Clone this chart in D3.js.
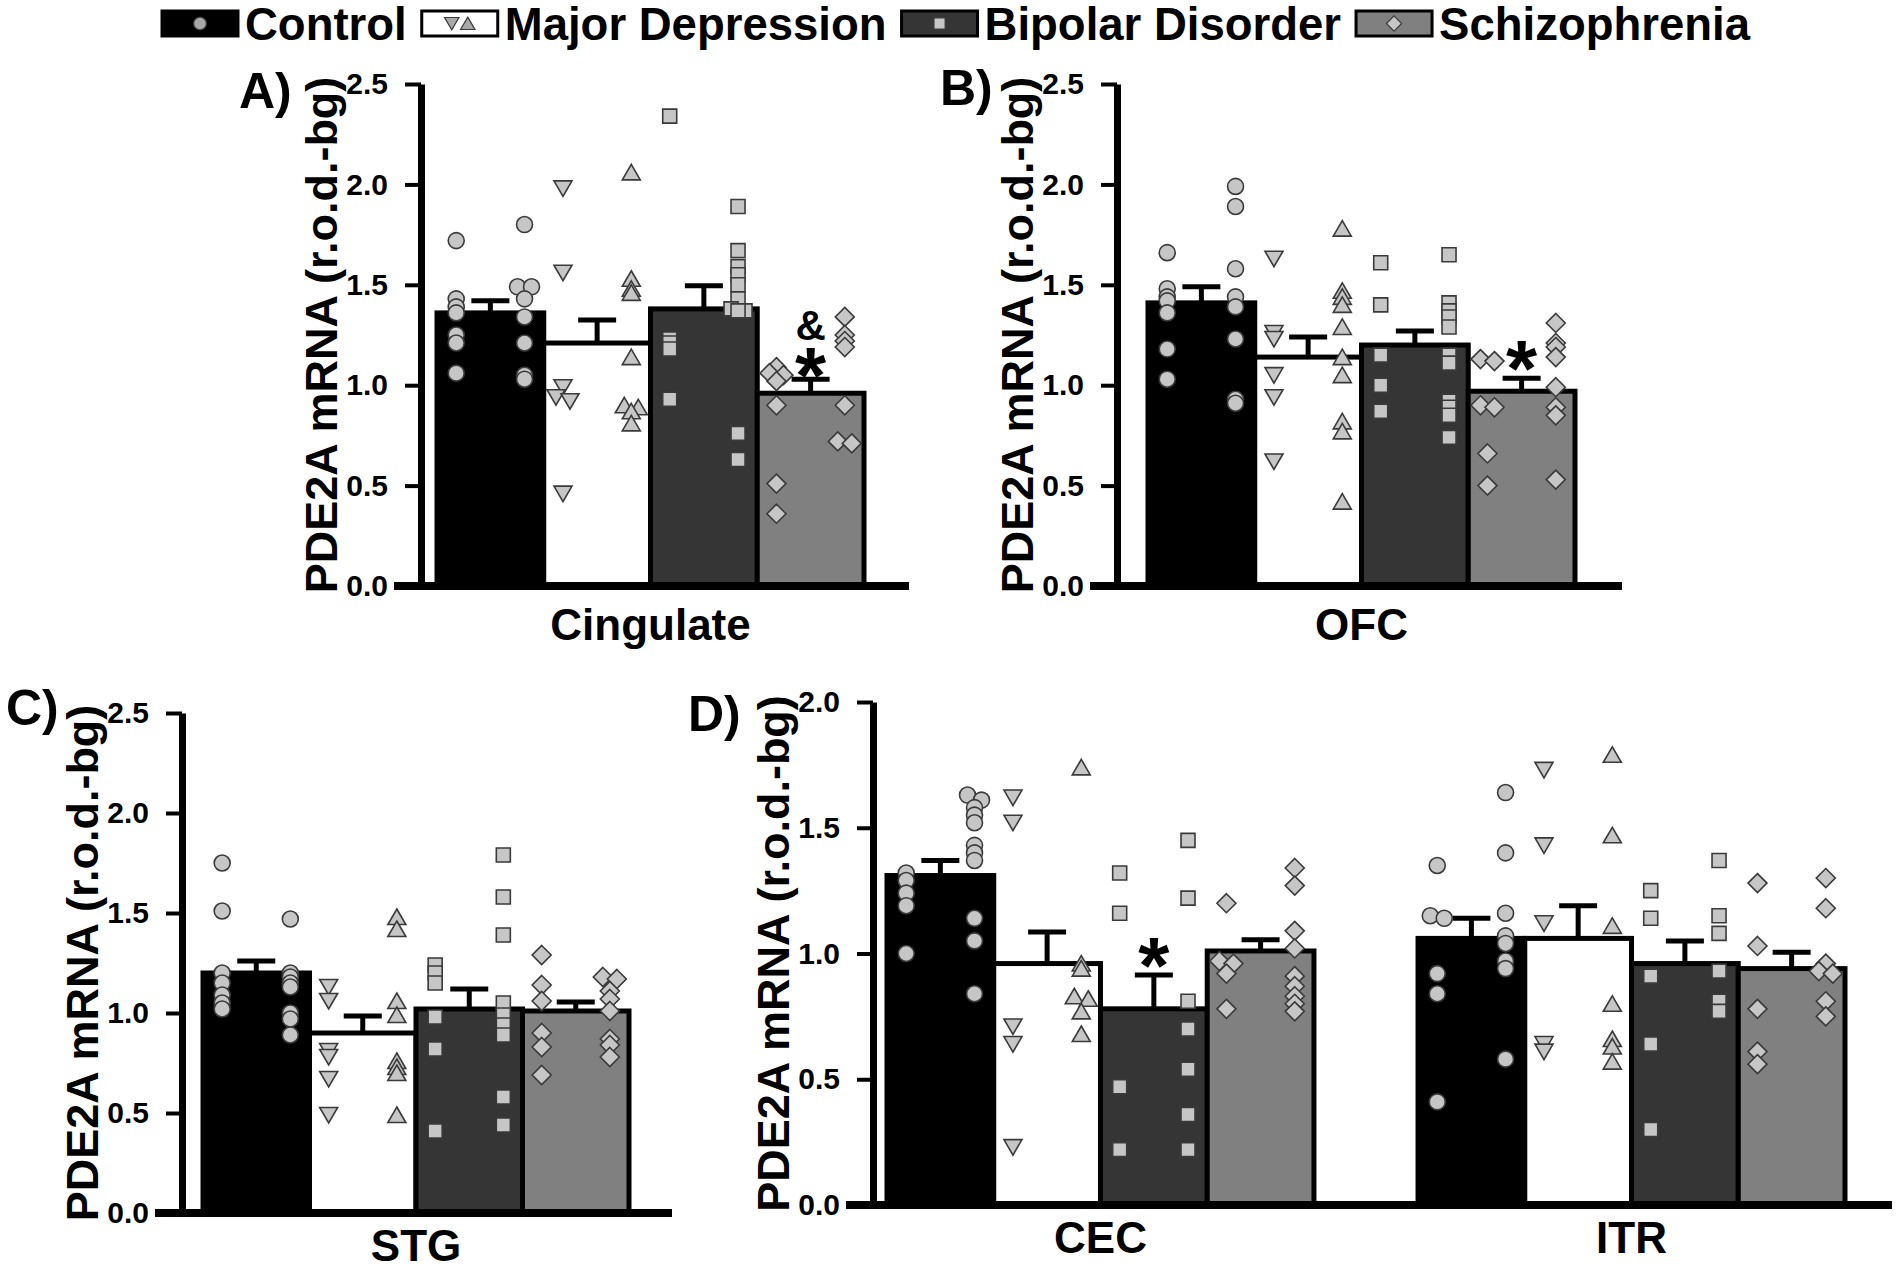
<!DOCTYPE html>
<html><head><meta charset="utf-8">
<script src="https://cdn.jsdelivr.net/npm/d3@7"></script>
<style>
body{margin:0;background:#fff;}
svg{display:block;}
text{font-family:"Liberation Sans", Arial, sans-serif; font-weight:bold; fill:#000;}
</style></head><body>
<svg id="chart" width="1896" height="1269"></svg>
<script>
// ---------- DATA ----------
const groups = ["Control", "Major Depression", "Bipolar Disorder", "Schizophrenia"];
const regions = ["Cingulate", "OFC", "STG", "CEC", "ITR"];
const yTicks25 = [0, 0.5, 1.0, 1.5, 2.0, 2.5];
const yTicks20 = [0, 0.5, 1.0, 1.5, 2.0];
const yLabel = "PDE2A mRNA (r.o.d.-bg)";

const meanCingulate = [1.36, 1.21, 1.38, 0.96];
const semCingulate  = [0.06, 0.115, 0.115, 0.07];
const leftCingulate = [
  [1.72, 1.43, 1.39, 1.36, 1.25, 1.21, 1.06],
  [1.98, 1.56, 0.99, 0.94, 0.92, 0.46],
  [2.34, 1.23, 1.21, 1.18, 0.93],
  [1.09, 1.06, 1.05, 1.02, 0.90, 0.51, 0.36]];
const rightCingulate = [
  [1.80, 1.49, 1.49, 1.43, 1.34, 1.21, 1.05, 1.03],
  [2.06, 1.53, 1.48, 1.46, 1.14, 0.90, 0.89, 0.87, 0.81],
  [1.89, 1.67, 1.59, 1.55, 1.50, 1.43, 1.38, 1.37, 1.37, 0.76, 0.63],
  [1.34, 1.25, 1.22, 1.19, 0.90, 0.72, 0.71]];

const meanOFC = [1.41, 1.14, 1.20, 0.97];
const semOFC  = [0.08, 0.10, 0.07, 0.065];
const leftOFC = [
  [1.66, 1.48, 1.44, 1.42, 1.36, 1.18, 1.03],
  [1.63, 1.26, 1.23, 1.05, 0.94, 0.62],
  [1.61, 1.40, 1.15, 1.00, 0.87],
  [1.13, 1.12, 0.90, 0.89, 0.66, 0.50]];
const rightOFC = [
  [1.99, 1.89, 1.58, 1.44, 1.39, 1.23, 0.93, 0.91],
  [1.78, 1.47, 1.44, 1.40, 1.29, 1.14, 1.05, 0.82, 0.77, 0.42],
  [1.65, 1.41, 1.37, 1.34, 1.29, 1.15, 1.11, 0.92, 0.89, 0.85, 0.74],
  [1.31, 1.21, 1.19, 1.14, 0.99, 0.89, 0.85, 0.53]];

const meanSTG = [1.20, 0.90, 1.02, 1.01];
const semSTG  = [0.06, 0.085, 0.10, 0.045];
const leftSTG = [
  [1.75, 1.51, 1.20, 1.15, 1.09, 1.05, 1.02],
  [1.13, 1.06, 0.81, 0.78, 0.67, 0.49],
  [1.24, 1.20, 1.15, 0.98, 0.82, 0.41],
  [1.29, 1.14, 1.06, 0.90, 0.83, 0.69]];
const rightSTG = [
  [1.47, 1.20, 1.18, 1.15, 1.13, 1.00, 0.97, 0.89],
  [1.48, 1.42, 1.06, 0.99, 0.76, 0.73, 0.70, 0.49],
  [1.79, 1.58, 1.39, 1.05, 0.99, 0.94, 0.89, 0.58, 0.44],
  [1.18, 1.17, 1.11, 1.07, 1.01, 0.87, 0.84, 0.78]];

const meanCEC = [1.31, 0.96, 0.78, 1.01];
const semCEC  = [0.06, 0.125, 0.135, 0.045];
const leftCEC = [
  [1.32, 1.29, 1.24, 1.19, 1.00],
  [1.62, 1.52, 0.71, 0.64, 0.23],
  [1.32, 1.16, 0.47, 0.22],
  [1.20, 0.97, 0.96, 0.92, 0.78]];
const rightCEC = [
  [1.63, 1.61, 1.58, 1.55, 1.52, 1.43, 1.40, 1.37, 1.14, 1.05, 0.84],
  [1.74, 0.96, 0.94, 0.83, 0.82, 0.77, 0.68],
  [1.45, 1.22, 0.81, 0.70, 0.54, 0.36, 0.22],
  [1.34, 1.27, 1.09, 1.02, 0.91, 0.87, 0.83, 0.80, 0.77]];

const meanITR = [1.06, 1.06, 0.96, 0.94];
const semITR  = [0.08, 0.13, 0.09, 0.065];
const leftITR = [
  [1.35, 1.15, 1.14, 0.92, 0.84, 0.41],
  [1.73, 1.43, 1.12, 0.64, 0.61],
  [1.25, 1.14, 0.91, 0.64, 0.30],
  [1.28, 1.03, 0.78, 0.61, 0.56]];
const rightITR = [
  [1.64, 1.40, 1.16, 1.07, 1.04, 0.97, 0.94, 0.58],
  [1.79, 1.47, 1.11, 0.80, 0.66, 0.63, 0.57],
  [1.37, 1.15, 1.08, 0.93, 0.81, 0.77],
  [1.30, 1.18, 0.96, 0.93, 0.92, 0.81, 0.75]];

// significance marks: [region, group, text, value at glyph centre]
const marks = [
  ["Cingulate", "Schizophrenia", "*", 1.135],
  ["Cingulate", "Schizophrenia", "&", 1.30],
  ["OFC", "Schizophrenia", "*", 1.17],
  ["CEC", "Bipolar Disorder", "*", 1.02]];

// ---------- TABLE ----------
const regionData = {
  Cingulate: {mean: meanCingulate, sem: semCingulate, left: leftCingulate, right: rightCingulate},
  OFC: {mean: meanOFC, sem: semOFC, left: leftOFC, right: rightOFC},
  STG: {mean: meanSTG, sem: semSTG, left: leftSTG, right: rightSTG},
  CEC: {mean: meanCEC, sem: semCEC, left: leftCEC, right: rightCEC},
  ITR: {mean: meanITR, sem: semITR, left: leftITR, right: rightITR}
};

// ---------- STYLE / LAYOUT ----------
const barFill = d3.scaleOrdinal().domain(groups).range(["#000000", "#ffffff", "#353535", "#808080"]);
const leftShape = d3.scaleOrdinal().domain(groups).range(["circle", "down", "square", "diamond"]);
const rightShape = d3.scaleOrdinal().domain(groups).range(["circle", "up", "square", "diamond"]);
const dotFill = "#c6c6c6", dotStroke = "#3a3a3a";

const panels = [
  {letter: "A)", lx: 239, ly: 108, axisX: 421, yTop: 84, yBot: 586, ticks: yTicks25, x0: 437, x1: 864, xEnd: 909, regs: ["Cingulate"], pad: 0, labPad: 23},
  {letter: "B)", lx: 940, ly: 105, axisX: 1117, yTop: 84, yBot: 586, ticks: yTicks25, x0: 1148, x1: 1575, xEnd: 1622, regs: ["OFC"], pad: 0, labPad: 23},
  {letter: "C)", lx: 6, ly: 725, axisX: 182, yTop: 713, yBot: 1213, ticks: yTicks25, x0: 203, x1: 629, xEnd: 672, regs: ["STG"], pad: 0, labPad: 17},
  {letter: "D)", lx: 688, ly: 731, axisX: 873, yTop: 702, yBot: 1205, ticks: yTicks20, x0: 887, x1: 1845, xEnd: 1892, regs: ["CEC", "ITR"], pad: 0.196, labPad: 17}
];

function symbolPath(shape) {
  switch (shape) {
    case "circle": return d3.symbol(d3.symbolCircle, Math.PI * 8 * 8)();
    case "down": return "M-9,-7.5L9,-7.5L0,8Z";
    case "up": return "M0,-8L9,7.5L-9,7.5Z";
    case "square": return "M-7,-7h14v14h-14Z";
    case "diamond": return "M0,-9.5L9.5,0L0,9.5L-9.5,0Z";
  }
}

const svg = d3.select("#chart");

// ---------- LEGEND ----------
(function () {
  const lg = svg.append("g");
  let x = 162;
  groups.forEach((g, i) => {
    const w = 76, h = 25, y = 11;
    lg.append("rect").attr("x", x).attr("y", y).attr("width", w).attr("height", h)
      .attr("fill", barFill(g)).attr("stroke", "#000").attr("stroke-width", 3);
    const cx = x + w / 2, cy = y + h / 2;
    if (i === 1) {
      lg.append("path").attr("d", symbolPath("down")).attr("transform", `translate(${cx - 8},${cy}) scale(0.8)`)
        .attr("fill", "#a8a8a8").attr("stroke", dotStroke).attr("stroke-width", 1.5);
      lg.append("path").attr("d", symbolPath("up")).attr("transform", `translate(${cx + 8},${cy}) scale(0.8)`)
        .attr("fill", "#a8a8a8").attr("stroke", dotStroke).attr("stroke-width", 1.5);
    } else {
      lg.append("path").attr("d", symbolPath(leftShape(g))).attr("transform", `translate(${cx},${cy}) scale(0.8)`)
        .attr("fill", i === 0 ? "#a8a8a8" : dotFill).attr("stroke", dotStroke).attr("stroke-width", 1.5);
    }
    const t = lg.append("text").attr("x", x + w + 7).attr("y", 40).attr("font-size", 45.5).text(g);
    x = x + w + 7 + t.node().getComputedTextLength() + 15;
  });
})();

// ---------- PANELS ----------
panels.forEach(p => {
  const g = svg.append("g");
  const yMax = d3.max(p.ticks);
  const y = d3.scaleLinear().domain([0, yMax]).range([p.yBot, p.yTop]);
  const xOuter = d3.scaleBand().domain(p.regs).range([p.x0, p.x1]).paddingInner(p.pad).paddingOuter(0);
  const xInner = d3.scaleBand().domain(groups).range([0, xOuter.bandwidth()]).padding(0);
  const bw = xInner.bandwidth();

  p.regs.forEach(r => {
    const d = regionData[r];
    const rg = g.append("g").attr("transform", `translate(${xOuter(r)},0)`);
    // bars
    rg.selectAll("rect.bar").data(groups).join("rect").attr("class", "bar")
      .attr("x", gr => xInner(gr)).attr("width", bw)
      .attr("y", (gr, i) => y(d.mean[i])).attr("height", (gr, i) => p.yBot - y(d.mean[i]))
      .attr("fill", gr => barFill(gr)).attr("stroke", "#000").attr("stroke-width", 5);
    // error bars (upper only)
    groups.forEach((gr, i) => {
      const cx = xInner(gr) + bw / 2;
      const top = y(d.mean[i] + d.sem[i]);
      rg.append("line").attr("x1", cx).attr("x2", cx).attr("y1", y(d.mean[i])).attr("y2", top)
        .attr("stroke", "#000").attr("stroke-width", 5);
      rg.append("line").attr("x1", cx - 19).attr("x2", cx + 19).attr("y1", top).attr("y2", top)
        .attr("stroke", "#000").attr("stroke-width", 5);
    });
    // individual points, two columns per bar
    groups.forEach((gr, i) => {
      [["left", 0.18, leftShape(gr)], ["right", 0.82, rightShape(gr)]].forEach(([side, frac, shape]) => {
        const vals = d[side][i].slice().sort((a, b) => b - a);
        const offs = vals.map(() => 0);
        for (let k = 1; k < vals.length; k++) {
          if (Math.abs(vals[k] - vals[k - 1]) < 0.02 && offs[k - 1] === 0) { offs[k - 1] = -7; offs[k] = 7; }
        }
        rg.selectAll(null).data(vals).join("path")
          .attr("d", symbolPath(shape))
          .attr("transform", (v, k) => `translate(${xInner(gr) + frac * bw + offs[k]},${y(v)})`)
          .attr("fill", dotFill).attr("stroke", dotStroke).attr("stroke-width", 1.6);
      });
    });
  });

  // significance marks
  marks.filter(m => p.regs.includes(m[0])).forEach(([r, gr, txt, v]) => {
    const cx = xOuter(r) + xInner(gr) + bw / 2;
    const fs = txt === "*" ? 80 : 42;
    const off = txt === "*" ? 0.56 * fs : 0.36 * fs;
    g.append("text").attr("x", cx).attr("y", y(v) + off).attr("text-anchor", "middle")
      .attr("font-size", fs).text(txt);
  });

  // x axis baseline + category labels
  g.append("line").attr("x1", p.axisX - 27).attr("x2", p.xEnd).attr("y1", p.yBot).attr("y2", p.yBot)
    .attr("stroke", "#000").attr("stroke-width", 8);
  const xa = g.append("g").attr("transform", `translate(0,${p.yBot})`)
    .call(d3.axisBottom(xOuter).tickSize(0).tickPadding(p.labPad));
  xa.select(".domain").remove();
  xa.selectAll("text").attr("font-size", 44).attr("font-family", null).attr("fill", "#000");

  // y axis
  const ya = g.append("g").attr("transform", `translate(${p.axisX},0)`)
    .call(d3.axisLeft(y).tickValues(p.ticks).tickFormat(d3.format(".1f")).tickSize(16).tickPadding(17).tickSizeOuter(0));
  ya.select(".domain").attr("stroke", "#000").attr("stroke-width", 7);
  ya.selectAll(".tick line").attr("stroke", "#000").attr("stroke-width", 4);
  ya.selectAll(".tick text").attr("font-size", 30).attr("font-family", null).attr("fill", "#000");

  // y label
  g.append("text").attr("transform", `translate(${p.axisX - 84},${(p.yTop + p.yBot) / 2}) rotate(-90)`)
    .attr("text-anchor", "middle").attr("font-size", 45).text(yLabel);

  // panel letter
  g.append("text").attr("x", p.lx).attr("y", p.ly).attr("font-size", 50).text(p.letter);
});
</script>
</body></html>
